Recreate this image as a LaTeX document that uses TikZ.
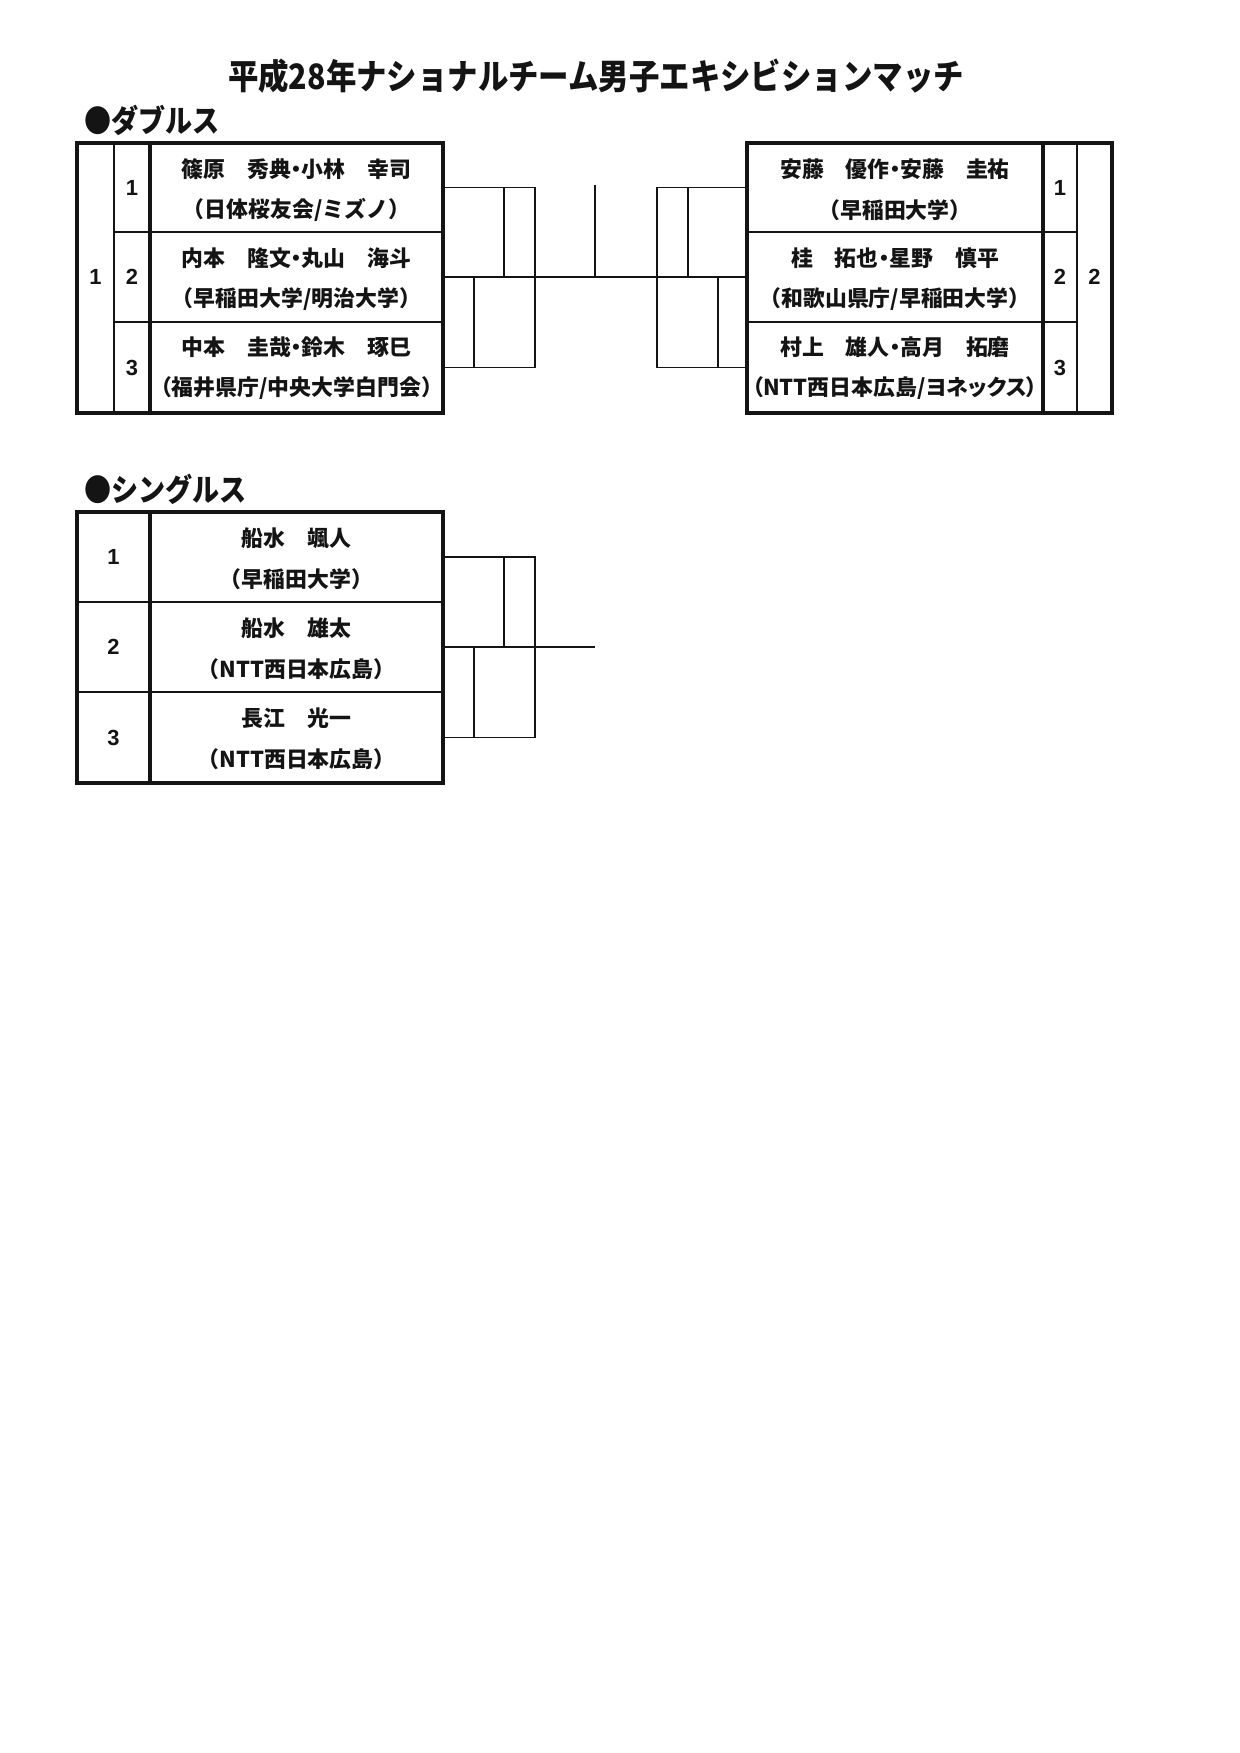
\documentclass[tikz,border=0pt]{standalone}
\usepackage{fontspec}
\setmainfont{Liberation Sans}
\newfontfamily\jp{Noto Sans CJK JP}
\newfontfamily\jpp[RawFeature=+palt]{Noto Sans CJK JP}
\usetikzlibrary{positioning,calc}
\definecolor{Paper}{HTML}{FFFFFF}
\definecolor{Ink}{HTML}{141414}
\tikzset{frame/.style={draw=Ink,line width=1.5pt},rule/.style={draw=Ink,line width=0.75pt},heavyrule/.style={draw=Ink,line width=1.5pt},bracket/.style={draw=Ink,line width=0.85pt,line cap=rect},seed/.style={text=Ink,font=\fontsize{10.5}{12}\selectfont\bfseries,inner sep=0pt},player/.style={text=Ink,font=\jpp\fontsize{10.5}{12}\selectfont\bfseries,inner sep=0pt},club/.style={text=Ink,font=\jp\fontsize{10.5}{12}\selectfont\bfseries,inner sep=0pt},heading/.style={anchor=west,text=Ink,font=\jp\fontsize{13}{15}\selectfont\bfseries,inner sep=0pt}}
\newcommand\tall[1]{\scalebox{1}[1.15]{#1}}

\begin{document}
\begin{tikzpicture}[x=0.48pt,y=-0.48pt]
\fill[Paper] (0,0) rectangle (1240,1753);
\node[text=Ink,font=\jp\fontsize{14.6}{17}\selectfont\bfseries,inner sep=0pt] (title) at (596,76) {\tall{平成28年ナショナルチーム男子エキシビションマッチ}};
\node[heading] (dbl) at (84,120) {\tall{●ダブルス}};
\node[heading] (sgl) at (84,489) {\tall{●シングルス}};
% doubles, left block
\draw[frame] (77,143) rectangle (443,413);
\draw[rule] (114,143)--(114,413);
\draw[heavyrule] (150,143)--(150,413);
\foreach \y in {232,322} \draw[rule] (114,\y)--(443,\y);
\node[seed] (Lblock) at (95.5,277) {1};
\node[seed] (Lseed1) at (132,187.5) {1};
\node[seed] (Lseed2) at (132,277) {2};
\node[seed] (Lseed3) at (132,367.5) {3};
\node[player] (Lname1) at (296.5,169) {篠原　秀典・小林　幸司};
\node[club] (Lclub1) at (296.5,210) {（日体桜友会/ミズノ）};
\node[player] (Lname2) at (296.5,258) {内本　隆文・丸山　海斗};
\node[club] (Lclub2) at (296.5,299) {（早稲田大学/明治大学）};
\node[player] (Lname3) at (296.5,347) {中本　圭哉・鈴木　琢巳};
\node[club] (Lclub3) at (296.5,388) {（福井県庁/中央大学白門会）};
% doubles, right block
\draw[frame] (747,143) rectangle (1112,413);
\draw[heavyrule] (1043,143)--(1043,413);
\draw[rule] (1077,143)--(1077,413);
\foreach \y in {232,322} \draw[rule] (747,\y)--(1077,\y);
\node[seed] (Rblock) at (1094.5,277) {2};
\node[seed] (Rseed1) at (1060,187.5) {1};
\node[seed] (Rseed2) at (1060,277) {2};
\node[seed] (Rseed3) at (1060,367.5) {3};
\node[player] (Rname1) at (895,169) {安藤　優作・安藤　圭祐};
\node[club] (Rclub1) at (895,210) {（早稲田大学）};
\node[player] (Rname2) at (895,258) {桂　拓也・星野　慎平};
\node[club] (Rclub2) at (895,299) {（和歌山県庁/早稲田大学）};
\node[player] (Rname3) at (895,347) {村上　雄人・高月　拓磨};
\node[player] (Rclub3) at (895,388) {（NTT西日本広島/ヨネックス）};
% doubles bracket
\coordinate (L1) at (443,187.5); \coordinate (L2) at (443,277); \coordinate (L3) at (443,367.5);
\coordinate (R1) at (747,187.5); \coordinate (R2) at (747,277); \coordinate (R3) at (747,367.5);
\coordinate (Lbox) at (535,187.5); \coordinate (Rbox) at (657,187.5);
\coordinate (final) at (595,186);
\draw[bracket] (L1) -- (Lbox) -- (Lbox |- L3) -- (L3);
\draw[bracket] (R1) -- (Rbox) -- (Rbox |- R3) -- (R3);
\draw[bracket] (L2) -- (R2);
\draw[bracket] (final) -- (final |- L2);
\draw[bracket] (504,187.5) -- (504,277); \draw[bracket] (474,277) -- (474,367.5);
\draw[bracket] (688,187.5) -- (688,277); \draw[bracket] (718,277) -- (718,367.5);
% singles
\draw[frame] (77,512) rectangle (443,783);
\draw[heavyrule] (150,512)--(150,783);
\foreach \y in {602,692} \draw[rule] (77,\y)--(443,\y);
\node[seed] (Sseed1) at (113.5,557) {1};
\node[seed] (Sseed2) at (113.5,647) {2};
\node[seed] (Sseed3) at (113.5,737.5) {3};
\node[player] (Sname1) at (296.5,538) {船水　颯人};
\node[club] (Sclub1) at (296.5,579) {（早稲田大学）};
\node[player] (Sname2) at (296.5,628) {船水　雄太};
\node[club] (Sclub2) at (296.5,669) {（NTT西日本広島）};
\node[player] (Sname3) at (296.5,718) {長江　光一};
\node[club] (Sclub3) at (296.5,759) {（NTT西日本広島）};
\coordinate (S1) at (443,557); \coordinate (S2) at (443,647); \coordinate (S3) at (443,737.5);
\coordinate (Sbox) at (535,557); \coordinate (Send) at (594,647);
\draw[bracket] (S1) -- (Sbox) -- (Sbox |- S3) -- (S3);
\draw[bracket] (S2) -- (Send);
\draw[bracket] (504,557) -- (504,647); \draw[bracket] (474,647) -- (474,737.5);
\end{tikzpicture}
\end{document}
